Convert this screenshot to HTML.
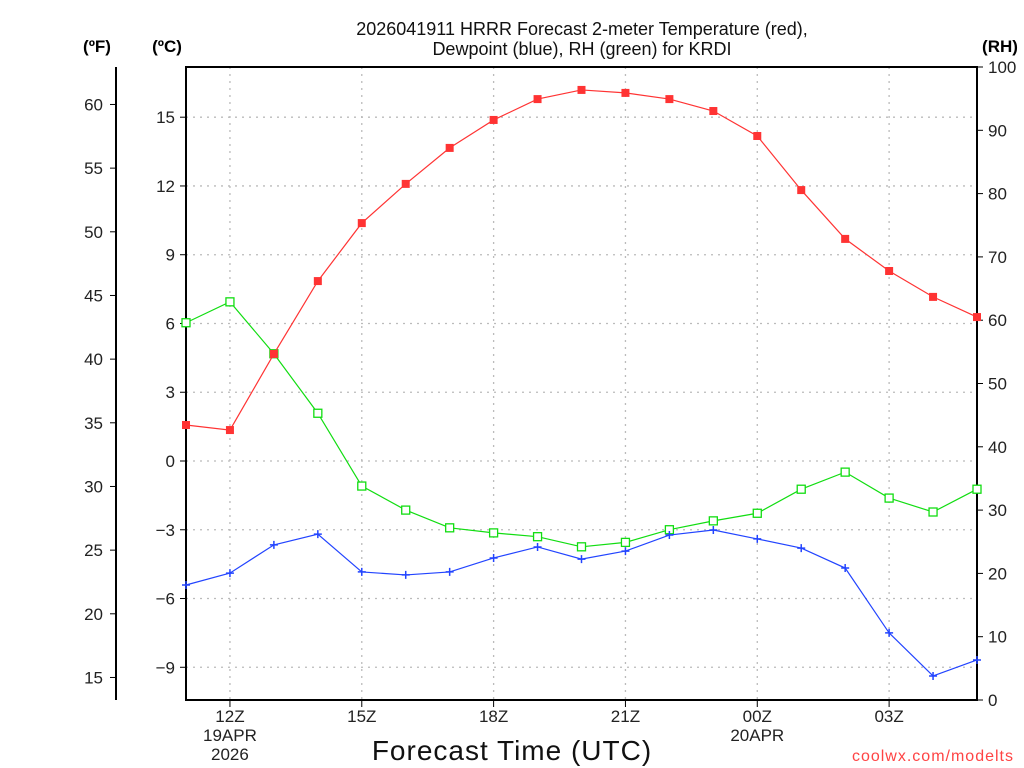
<!DOCTYPE html>
<html><head><meta charset="utf-8"><style>
html,body{margin:0;padding:0;background:#fff;}
svg{display:block;font-family:"Liberation Sans","DejaVu Sans",sans-serif;}
</style></head><body>
<svg id="chart" width="1024" height="768" viewBox="0 0 1024 768" xmlns="http://www.w3.org/2000/svg"></svg>
<script>
const hours = ["11","12","13","14","15","16","17","18","19","20","21","22","23","00","01","02","03","04","05"];
const tempC = [1.57,1.35,4.67,7.85,10.38,12.09,13.66,14.88,15.79,16.19,16.06,15.79,15.27,14.18,11.82,9.69,8.29,7.16,6.28];
const dewC = [-5.41,-4.89,-3.66,-3.19,-4.84,-4.97,-4.84,-4.23,-3.75,-4.28,-3.93,-3.23,-3.01,-3.40,-3.80,-4.67,-7.50,-9.38,-8.68];
const rh = [59.6,62.9,54.7,45.3,33.8,30.0,27.2,26.4,25.8,24.2,24.9,26.9,28.3,29.5,33.3,36.0,31.9,29.7,33.3];
const cTicks = [15,12,9,6,3,0,-3,-6,-9];
const fTicks = [60,55,50,45,40,35,30,25,20,15];
const rhTicks = [0,10,20,30,40,50,60,70,80,90,100];
const xTickLabels = [["12Z","19APR","2026"],["15Z"],["18Z"],["21Z"],["00Z","20APR"],["03Z"]];
const xTickIdx = [1,4,7,10,13,16];

const NS="http://www.w3.org/2000/svg";
const svg=document.getElementById('chart');
const L=186,R=977,T=67,B=700;
const xs=i=>L+i*(R-L)/(hours.length-1);
const yC=c=>461-c*22.92;
const yF=f=>yC((f-32)/1.8);
const yRH=v=>B-v*(B-T)/100;
function el(tag,attrs,parent){const e=document.createElementNS(NS,tag);for(const k in attrs)e.setAttribute(k,attrs[k]);(parent||svg).appendChild(e);return e;}
function txt(x,y,s,attrs){const t=el('text',Object.assign({x:x,y:y},attrs||{}));t.textContent=s;return t;}

// grid
const grid=el('g',{});


cTicks.forEach(c=>{const l=el('line',{x1:L,x2:R,y1:yC(c),y2:yC(c),stroke:'#bbb','stroke-width':1.3,'stroke-dasharray':'2,5'},grid);});
xTickIdx.forEach(i=>{const l=el('line',{x1:xs(i),x2:xs(i),y1:T,y2:B,stroke:'#bbb','stroke-width':1.3,'stroke-dasharray':'2,5'},grid);});

// frame
const fr=el('rect',{x:L,y:T,width:R-L,height:B-T,fill:'none',stroke:'#000','stroke-width':2});


const fax=el('line',{x1:116,x2:116,y1:T,y2:B,stroke:'#000','stroke-width':2});



// ticks
cTicks.forEach(c=>{el('line',{x1:180,x2:L,y1:yC(c),y2:yC(c),stroke:'#000','stroke-width':1});const t=txt(175,yC(c)+6,String(c).replace('-','−'),{'font-size':17,'text-anchor':'end',fill:'#222'});});
fTicks.forEach(f=>{el('line',{x1:110,x2:116,y1:yF(f),y2:yF(f),stroke:'#000','stroke-width':1});const t=txt(103,yF(f)+6,String(f),{'font-size':17,'text-anchor':'end',fill:'#222'});});
rhTicks.forEach(v=>{el('line',{x1:R,x2:R+6,y1:yRH(v),y2:yRH(v),stroke:'#000','stroke-width':1});const t=txt(988,yRH(v)+6,String(v),{'font-size':17,fill:'#222'});});
xTickIdx.forEach((i,k)=>{el('line',{x1:xs(i),x2:xs(i),y1:B,y2:B+7,stroke:'#000','stroke-width':1});xTickLabels[k].forEach((s,j)=>{const t=txt(xs(i),722+j*19,s,{'font-size':17,'text-anchor':'middle',fill:'#222'});});});

// series
function series(vals,yf,color,marker,name){
  const g=el('g',{});
  
  
  const pts=vals.map((v,i)=>xs(i)+','+yf(v)).join(' ');
  el('polyline',{points:pts,fill:'none',stroke:color,'stroke-width':1.2},g);
  vals.forEach((v,i)=>{const x=xs(i),y=yf(v);let m;
    if(marker==='fill'){m=el('rect',{x:x-4,y:y-4,width:8,height:8,fill:color},g);}
    else if(marker==='open'){m=el('rect',{x:x-4,y:y-4,width:8,height:8,fill:'#fff',stroke:color,'stroke-width':1.3},g);}
    else{m=el('path',{d:`M${x-4},${y}H${x+4}M${x},${y-4}V${y+4}`,stroke:color,'stroke-width':1.5},g);}
    
    });
}
series(rh,yRH,'#11dd11','open','rh-series');
series(dewC,yC,'#2244ff','plus','dewpoint-series');
series(tempC,yC,'#ff3333','fill','temperature-series');

// titles
let t;
t=txt(582,35,'2026041911 HRRR Forecast 2-meter Temperature (red),',{'font-size':18,'text-anchor':'middle',fill:'#111'});
t=txt(582,55,'Dewpoint (blue), RH (green) for KRDI',{'font-size':18,'text-anchor':'middle',fill:'#111'});
t=txt(97,52,'(ºF)',{'font-size':17,'font-weight':'bold','text-anchor':'middle'});
t=txt(167,52,'(ºC)',{'font-size':17,'font-weight':'bold','text-anchor':'middle'});
t=txt(1000,52,'(RH)',{'font-size':17,'font-weight':'bold','text-anchor':'middle'});
t=txt(512,760,'Forecast Time (UTC)',{'font-size':28,'text-anchor':'middle',fill:'#111','letter-spacing':'1'});
t=txt(1014,761,'coolwx.com/modelts',{'font-size':16,'text-anchor':'end',fill:'#ff4444','letter-spacing':'1'});
</script>
</body></html>
